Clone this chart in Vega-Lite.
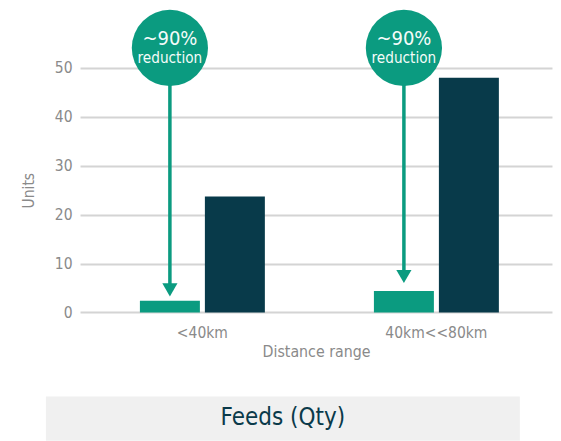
{
  "$schema": "https://vega.github.io/schema/vega-lite/v6.json",
  "padding": {"left": 21, "top": 9, "right": 8, "bottom": 0},
  "background": "white",
  "width": 472,
  "height": 244.4,
  "config": {
    "view": {"stroke": null},
    "font": "DejaVu Sans Condensed",
    "axis": {"labelFont": "DejaVu Sans Condensed", "titleFont": "DejaVu Sans Condensed", "labelColor": "#8a8a8a", "titleColor": "#8a8a8a", "titleFontWeight": "normal", "labelFontSize": 15.5, "titleFontSize": 15.5}
  },
  "layer": [
    {
      "data": {"values": [
        {"range": "<40km", "series": "After", "units": 2.4},
        {"range": "<40km", "series": "Before", "units": 23.7},
        {"range": "40km<<80km", "series": "After", "units": 4.4},
        {"range": "40km<<80km", "series": "Before", "units": 48.0}
      ]},
      "mark": {"type": "bar"},
      "encoding": {
        "x": {
          "field": "range", "type": "nominal",
          "scale": {"domain": ["<40km", "40km<<80km"], "paddingInner": 0.466, "paddingOuter": 0.2415, "align": 0.53},
          "axis": {"title": "Distance range", "labelAngle": 0, "ticks": false, "domain": false, "grid": false, "labelPadding": 13, "titlePadding": 4, "titleFontSize": 15.8}
        },
        "xOffset": {"field": "series", "type": "nominal", "scale": {"domain": ["After", "Before"], "paddingInner": 0.077, "paddingOuter": 0}},
        "y": {"field": "units", "type": "quantitative", "scale": {"domain": [0, 50], "nice": false},
          "axis": {"title": "Units", "values": [0, 10, 20, 30, 40, 50], "ticks": false, "domain": false, "gridColor": "#d4d4d4", "gridWidth": 2, "labelPadding": 8, "titlePadding": 18}},
        "color": {"field": "series", "type": "nominal", "scale": {"domain": ["After", "Before"], "range": ["#0b9b80", "#083a4a"]}, "legend": null}
      }
    },
    {
      "data": {"values": [
        {"range": "<40km", "series": "After", "circleY": 54.1, "arrowTop": 5.8, "arrowHead": 4.6, "pct": "~90%", "pctY": 56.0, "word": "reduction", "wordY": 52.1},
        {"range": "40km<<80km", "series": "After", "circleY": 54.1, "arrowTop": 8.5, "arrowHead": 7.35, "pct": "~90%", "pctY": 56.0, "word": "reduction", "wordY": 52.1}
      ]},
      "encoding": {
        "x": {"field": "range", "type": "nominal"},
        "xOffset": {"field": "series", "type": "nominal"}
      },
      "layer": [
        {"mark": {"type": "rule", "color": "#0b9b80", "strokeWidth": 3.5},
         "encoding": {"y": {"field": "arrowTop", "type": "quantitative"}, "y2": {"field": "circleY"}}},
        {"mark": {"type": "point", "shape": "triangle-down", "filled": true, "color": "#0b9b80", "opacity": 1, "size": 230},
         "encoding": {"y": {"field": "arrowHead", "type": "quantitative"}}},
        {"mark": {"type": "point", "shape": "circle", "filled": true, "color": "#0b9b80", "opacity": 1, "size": 5809},
         "encoding": {"y": {"field": "circleY", "type": "quantitative"}}},
        {"mark": {"type": "text", "color": "#f4fbf9", "fontSize": 20, "baseline": "middle"},
         "encoding": {"y": {"field": "pctY", "type": "quantitative"}, "text": {"field": "pct"}}},
        {"mark": {"type": "text", "color": "#f4fbf9", "fontSize": 15.2, "baseline": "middle"},
         "encoding": {"y": {"field": "wordY", "type": "quantitative"}, "text": {"field": "word"}}}
      ]
    },
    {
      "data": {"values": [{"caption": "Feeds (Qty)"}]},
      "layer": [
        {"mark": {"type": "rect", "color": "#f0f0f0"},
         "encoding": {
           "x": {"datum": "<40km", "type": "nominal", "bandPosition": -0.752},
           "x2": {"datum": "40km<<80km", "bandPosition": 1.168},
           "y": {"datum": -17.2, "type": "quantitative"},
           "y2": {"datum": -26.25}
         }},
        {"mark": {"type": "text", "fontSize": 24, "color": "#0a3a4a", "baseline": "middle"},
         "encoding": {
           "x": {"datum": "<40km", "type": "nominal", "bandPosition": 1.144},
           "y": {"datum": -21.7, "type": "quantitative"},
           "text": {"field": "caption"}
         }}
      ]
    }
  ]
}
